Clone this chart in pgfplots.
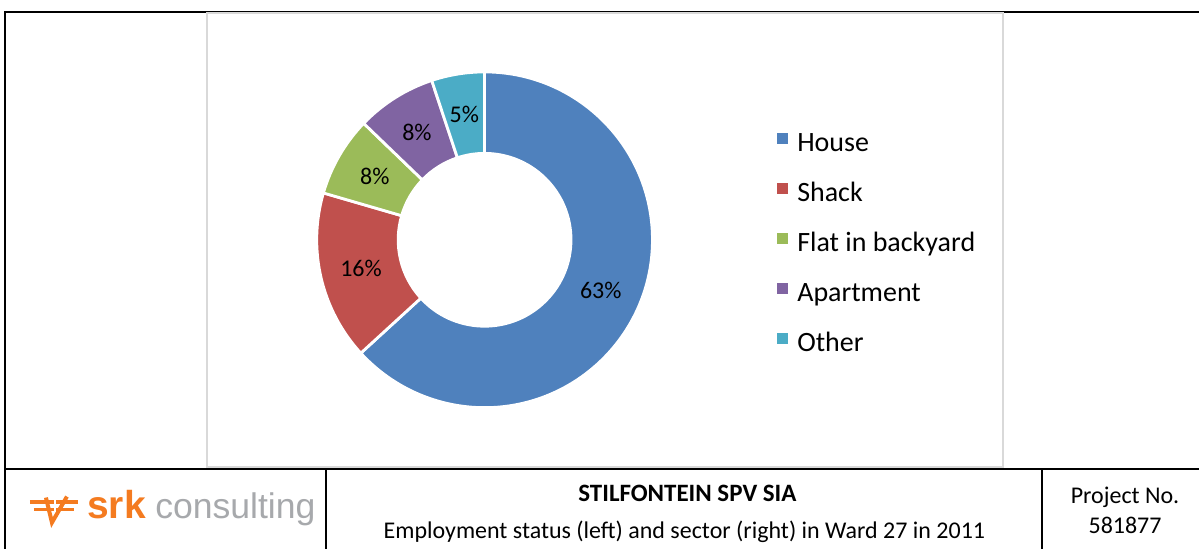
\documentclass[border=0pt]{standalone}
\usepackage{pgfplots}
\pgfplotsset{compat=1.18}
\usepackage{pgfplotstable}
\usepackage{fontspec}
\setmainfont{Carlito}
\newfontfamily\logofont{Liberation Sans}
\definecolor{slice0}{HTML}{4F81BD}
\definecolor{slice1}{HTML}{C0504D}
\definecolor{slice2}{HTML}{9BBB59}
\definecolor{slice3}{HTML}{8064A2}
\definecolor{slice4}{HTML}{4BACC6}
\definecolor{srkorange}{HTML}{F47B20}
\definecolor{srkgray}{HTML}{A7A9AC}
\definecolor{boxgray}{HTML}{D9D9D9}
\pgfplotstableread{
name value
House 63.2
Shack 16.3
Flat 7.7
Apartment 7.7
Other 5.1
}\piedata
\newcommand\lblfont{\fontsize{12}{14}\selectfont}
\newcommand\legfont{\fontsize{14}{17}\selectfont}
\newcommand\footfont{\fontsize{12}{14}\selectfont}
\begin{document}
\begin{tikzpicture}
\begin{axis}[
  x=0.5pt, y=0.5pt,
  xmin=0, xmax=1200, ymin=-549, ymax=0,
  scale only axis, hide axis, clip=false,
  legend style={
    at={(axis description cs:0.6483,0.5574)}, anchor=west,
    draw=none, fill=none, inner sep=0pt, outer sep=0pt,
    font=\legfont, row sep=12pt,
    nodes={inner sep=0pt, text height=11pt, text depth=2pt},
    /tikz/every odd column/.append style={column sep=4.5pt},
  },
  legend cell align=left,
  legend image code/.code={\fill[#1, draw=none] (0pt,-0.75pt) rectangle (5.5pt,4.75pt);},
]
% bounding box
\path (axis cs:0,0) rectangle (axis cs:1200,-549);
% frame lines
\draw[black, line width=1pt] (axis cs:5,-549) -- (axis cs:5,-12) -- (axis cs:1200,-12);
\draw[black, line width=1pt] (axis cs:5,-469) -- (axis cs:1200,-469);
\draw[black, line width=1pt] (axis cs:326,-469) -- (axis cs:326,-549);
\draw[black, line width=1pt] (axis cs:1043,-469) -- (axis cs:1043,-549);
% chart area
\filldraw[fill=white, draw=boxgray, line width=1pt] (axis cs:207,-13) rectangle (axis cs:1004,-467);
% donut
\def\cum{0}
\pgfplotsforeachungrouped \i in {0,...,4}{%
  \pgfplotstablegetelem{\i}{value}\of\piedata
  \pgfmathsetmacro\va{\pgfplotsretval}
  \pgfmathsetmacro\aS{90-3.6*\cum}
  \pgfmathsetmacro\aE{90-3.6*(\cum+\va)}
  \pgfmathsetmacro\aM{(\aS+\aE)/2}
  \pgfmathtruncatemacro\pct{round(\va)}
  \edef\cmd{%
    \noexpand\fill[slice\i, draw=white, line width=1.4pt] (axis cs:{485+168*cos(\aS)},{-240+168*sin(\aS)}) arc[start angle=\aS, end angle=\aE, radius=84pt] -- (axis cs:{485+86.5*cos(\aE)},{-240+86.5*sin(\aE)}) arc[start angle=\aE, end angle=\aS, radius=43.25pt] -- cycle;
    \noexpand\node[font=\noexpand\lblfont, inner sep=0pt] at (axis cs:{485+127*cos(\aM)},{-240+127*sin(\aM)}) {\pct\noexpand\%};
  }%
  \cmd
  \pgfmathsetmacro\cum{\cum+\va}
}
\addlegendimage{fill=slice0, draw=none}
\addlegendimage{fill=slice1, draw=none}
\addlegendimage{fill=slice2, draw=none}
\addlegendimage{fill=slice3, draw=none}
\addlegendimage{fill=slice4, draw=none}
\legend{House, Shack, Flat in backyard, Apartment, Other}
% footer texts
\node[anchor=base, font=\fontsize{12.5}{14}\selectfont\bfseries, inner sep=0pt] at (axis cs:688,-502) {STILFONTEIN SPV SIA};
\node[anchor=base, font=\footfont, inner sep=0pt] at (axis cs:685,-539) {Employment status (left) and sector (right) in Ward 27 in 2011};
\node[anchor=base, font=\footfont, inner sep=0pt] at (axis cs:1126,-504) {Project No.};
\node[anchor=base, font=\footfont, inner sep=0pt] at (axis cs:1126,-534) {581877};
% logo
\draw[srkorange, line width=2pt] (axis cs:30,-502) -- (axis cs:78,-502);
\draw[srkorange, line width=1.6pt] (axis cs:34,-510) -- (axis cs:74,-510);
\draw[srkorange, line width=2pt] (axis cs:46,-498) -- (axis cs:52,-523) -- (axis cs:67,-497);
\draw[white, line width=0.8pt] (axis cs:55,-497) -- (axis cs:55,-512);
\node[anchor=base west, inner sep=0pt, text=srkorange, font=\logofont\bfseries\fontsize{19.5}{21}\selectfont] at (axis cs:87,-519) {srk};
\node[anchor=base west, inner sep=0pt, text=srkgray, font=\logofont\fontsize{17.8}{20}\selectfont] at (axis cs:155,-519) {consulting};
\end{axis}
\end{tikzpicture}
\end{document}
